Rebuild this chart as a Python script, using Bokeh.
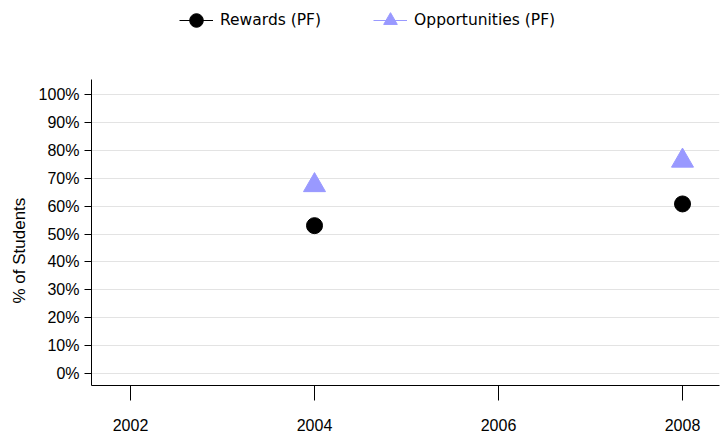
import numpy as np
from bokeh.plotting import figure
from bokeh.layouts import column
from bokeh.models import (ColumnDataSource, Legend, LegendItem, FixedTicker,
                          Range1d, Title)
from bokeh.embed import file_html
from bokeh.resources import INLINE

# ---- data ----
years = [2002, 2004, 2006, 2008]
rewards = [np.nan, 53.0, np.nan, 60.8]
opportunities = [np.nan, 67.5, np.nan, 76.3]
series_names = ["Rewards (PF)", "Opportunities (PF)"]
series_colors = ["#000000", "#9999FF"]
series_markers = ["circle", "triangle"]
y_ticks = [0, 10, 20, 30, 40, 50, 60, 70, 80, 90, 100]
y_tick_labels = ["0%", "10%", "20%", "30%", "40%", "50%", "60%", "70%", "80%", "90%", "100%"]
x_ticks = [2002, 2004, 2006, 2008]
y_title = "% of Students"

src = ColumnDataSource(dict(year=np.array(years, dtype=float),
                            rewards=np.array(rewards, dtype=float),
                            opportunities=np.array(opportunities, dtype=float)))

# ---- main chart ----
p = figure(width=727, height=396, output_backend="svg", toolbar_location=None,
           x_range=Range1d(2001.576, 2008.402), y_range=Range1d(-4.42, 105.5),
           min_border_left=91, min_border_right=8, min_border_top=39,
           min_border_bottom=51)
p.outline_line_color = None
p.background_fill_color = "white"

p.line("year", "rewards", source=src, line_color=series_colors[0], line_width=1)
p.scatter("year", "rewards", source=src, marker=series_markers[0], size=16,
          fill_color=series_colors[0], line_color=series_colors[0])
p.line("year", "opportunities", source=src, line_color=series_colors[1], line_width=1)
p.scatter("year", "opportunities", source=src, marker=series_markers[1], size=22,
          fill_color=series_colors[1], line_color=series_colors[1])

p.xaxis.ticker = FixedTicker(ticks=x_ticks)
p.yaxis.ticker = FixedTicker(ticks=y_ticks)
p.yaxis.major_label_overrides = {t: l for t, l in zip(y_ticks, y_tick_labels)}
for ax in (p.xaxis[0], p.yaxis[0]):
    ax.axis_line_color = "black"
    ax.axis_line_width = 1
    ax.major_tick_line_color = "black"
    ax.minor_tick_line_color = None
    ax.major_tick_in = 0
    ax.major_label_text_font = "Liberation Sans"
    ax.major_label_text_font_size = "16px"
    ax.major_label_text_color = "black"
p.xaxis.major_tick_out = 15
p.xaxis.major_label_standoff = 18
p.yaxis.major_tick_out = 7
p.yaxis.major_label_standoff = 5

p.xgrid.grid_line_color = None
p.ygrid.grid_line_color = "#e3e3e3"
p.ygrid.grid_line_width = 1

p.add_layout(Title(text=y_title, align="left", offset=82, vertical_align="middle",
                   text_font="Liberation Sans", text_font_size="17px",
                   text_font_style="normal", text_color="black", standoff=12), "left")

# ---- legend strip above the chart ----
lg = figure(width=727, height=40, output_backend="svg", toolbar_location=None,
            x_range=Range1d(0, 1), y_range=Range1d(0, 1),
            x_axis_location=None, y_axis_location=None,
            min_border_left=0, min_border_right=0, min_border_top=0,
            min_border_bottom=0)
lg.outline_line_color = None
lg.xgrid.visible = False
lg.ygrid.visible = False
placeholder = ColumnDataSource(dict(x=[np.nan], y=[np.nan]))
items = []
for name, col, mk in zip(series_names, series_colors, series_markers):
    r1 = lg.line("x", "y", source=placeholder, line_color=col, line_width=1)
    r2 = lg.scatter("x", "y", source=placeholder, marker=mk, fill_color=col, line_color=col)
    items.append(LegendItem(label=name, renderers=[r1, r2]))
legend = Legend(items=items, location=(88, 0), orientation="horizontal",
                glyph_width=34, glyph_height=40, label_standoff=7, spacing=52,
                padding=0, margin=0, border_line_color=None,
                background_fill_alpha=0, label_text_font="DejaVu Sans",
                label_text_font_size="15.5px", label_text_color="black")
lg.add_layout(legend, "center")

layout = column(lg, p, spacing=0)
open("out.html", "w").write(file_html(layout, INLINE))
